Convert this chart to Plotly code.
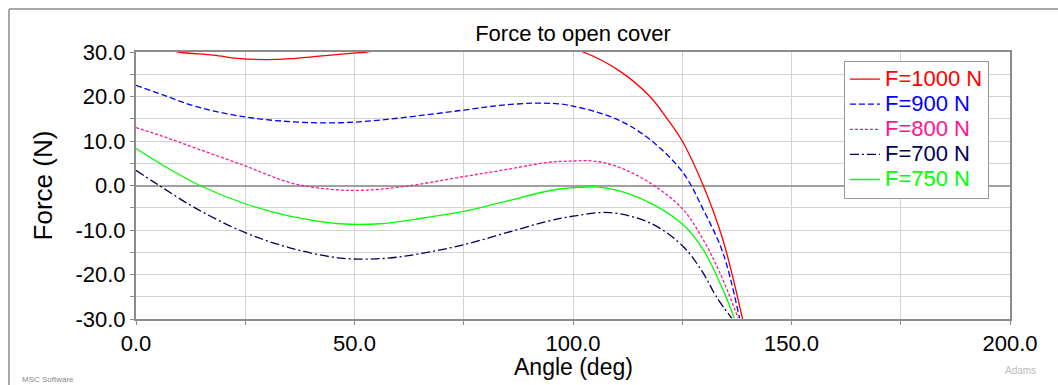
import plotly.graph_objects as go

# ---------------- data ----------------
x_1000 = [0, 5, 9.7, 17.7, 23.8, 30, 35.2, 41.3, 49, 52.8, 65, 80, 92, 102.3, 110.7, 117.6, 121.4, 125, 129.8, 134.3, 138.8]
y_1000 = [32.5, 31.0, 30.0, 29.3, 28.5, 28.3, 28.5, 29.0, 29.7, 30.0, 31.5, 32.8, 32.5, 30.0, 25.7, 20.0, 15.2, 10.0, 0.0, -12.2, -30.0]

x_900 = [0, 6.3, 13.9, 25, 36, 46.7, 55.8, 65.7, 75, 83.3, 90.9, 96, 100, 110, 117.6, 125.2, 129.8, 134.3, 138.1]
y_900 = [22.5, 20.3, 17.7, 15.4, 14.3, 14.1, 14.7, 15.8, 16.95, 18.0, 18.5, 18.4, 17.85, 14.9, 10.35, 2.85, -5.4, -15.1, -29.8]

x_800 = [0, 6.3, 13.9, 25, 35, 42, 49, 55, 61.9, 75, 84.8, 94.3, 100, 104.6, 110, 117.6, 125.2, 129.8, 133.6, 137.8]
y_800 = [13.0, 11.0, 8.3, 4.4, 0.7, -0.6, -1.1, -0.9, -0.15, 2.0, 3.6, 5.2, 5.5, 5.5, 4.3, 0.6, -5.4, -12.2, -19.6, -29.8]

x_700 = [0, 5, 14, 25, 35.2, 46.7, 56.6, 65.7, 75, 84.8, 94.3, 100, 108.4, 117.6, 125.2, 129.8, 132.8, 136.3]
y_700 = [3.4, 0.2, -5.3, -10.6, -14.0, -16.3, -16.4, -15.2, -13.3, -10.6, -8.0, -6.9, -6.1, -8.4, -13.7, -19.7, -25.0, -29.8]

x_750 = [0, 7.8, 14.6, 25, 35.2, 46.7, 55.8, 65.7, 75, 84.8, 96, 100, 105.4, 110, 117.6, 125.2, 129.8, 134.3, 136.9]
y_750 = [8.3, 3.6, 0.0, -4.1, -6.9, -8.6, -8.6, -7.3, -5.8, -3.5, -0.9, -0.5, -0.3, -1.05, -3.9, -8.8, -14.4, -23.4, -29.8]

series_names = ["F=1000 N", "F=900 N", "F=800 N", "F=700 N", "F=750 N"]

x_tickvals = [0, 25, 50, 75, 100, 125, 150, 175, 200]
x_ticktext = ["0.0", "", "50.0", "", "100.0", "", "150.0", "", "200.0"]
y_tickvals = [-30, -25, -20, -15, -10, -5, 0, 5, 10, 15, 20, 25, 30]
y_ticktext = ["-30.0", "", "-20.0", "", "-10.0", "", "0.0", "", "10.0", "", "20.0", "", "30.0"]

# ---------------- styling ----------------
FONT = "Arial, Liberation Sans, sans-serif"
styles = [
    ("#FF0000", "solid"),
    ("#0000FF", "6px,3px"),
    ("#FF1493", "3px,2px"),
    ("#00005A", "9px,3px,2px,3px"),
    ("#00FF00", "solid"),
]
xs = [x_1000, x_900, x_800, x_700, x_750]
ys = [y_1000, y_900, y_800, y_700, y_750]

fig = go.Figure()
for name, xv, yv, (col, dash) in zip(series_names, xs, ys, styles):
    fig.add_trace(go.Scatter(
        x=xv, y=yv, mode="lines",
        line=dict(color=col, dash=dash, width=1.3, shape="spline", smoothing=1.0),
        name=f'<span style="color:{col};font-size:22px">{name}</span>',
    ))

fig.update_layout(
    width=1058, height=385,
    margin=dict(l=136, r=48, t=52, b=66),
    paper_bgcolor="white", plot_bgcolor="white",
    font=dict(family=FONT, size=22, color="black"),
    title=dict(text="Force to open cover", x=(573 / 1058), xanchor="center",
               y=1 - 33 / 385, yanchor="middle", font=dict(size=22)),
    showlegend=True,
    legend=dict(
        x=0.81, y=0.968, xanchor="left", yanchor="top",
        bgcolor="white", bordercolor="#999999", borderwidth=1,
        font=dict(size=17), itemwidth=30, tracegroupgap=0,
        itemclick=False,
    ),
    xaxis=dict(
        range=[0, 200], tickvals=x_tickvals, ticktext=x_ticktext,
        showgrid=True, gridcolor="#D3D3D3", gridwidth=1,
        showline=True, linecolor="#8C8C8C", linewidth=2, mirror=True,
        ticks="outside", ticklen=4, tickcolor="#8C8C8C",
        zeroline=False, automargin=False,
    ),
    yaxis=dict(
        range=[-30, 30], tickvals=y_tickvals, ticktext=y_ticktext,
        showgrid=True, gridcolor="#D3D3D3", gridwidth=1,
        showline=True, linecolor="#8C8C8C", linewidth=2, mirror=True,
        ticks="outside", ticklen=4, tickcolor="#8C8C8C",
        zeroline=True, zerolinecolor="#A0A0A0", zerolinewidth=2,
        automargin=False,
        title=dict(text="Force (N)", standoff=15),
    ),
)

# x-axis title
fig.add_annotation(text="Angle (deg)", xref="paper", yref="paper",
                   x=0.5, y=(319 - 367) / 267, xanchor="center", yanchor="middle",
                   showarrow=False, borderpad=0, font=dict(size=23, color="black"))

# outer frame (top and left edges)
fig.add_shape(type="line", xref="paper", yref="paper",
              x0=(9 - 136) / 874, x1=(1058 - 136) / 874,
              y0=(319 - 9) / 267, y1=(319 - 9) / 267,
              line=dict(color="#A9A9A9", width=2))
fig.add_shape(type="line", xref="paper", yref="paper",
              x0=(9 - 136) / 874, x1=(9 - 136) / 874,
              y0=(319 - 9) / 267, y1=(319 - 390) / 267,
              line=dict(color="#A9A9A9", width=2))

# logos as text
fig.add_annotation(text="MSC Software", xref="paper", yref="paper",
                   x=(20 - 136) / 874, y=(319 - 379) / 267, xanchor="left", yanchor="middle",
                   showarrow=False, font=dict(size=8, color="#888888"))
fig.add_annotation(text="Adams", xref="paper", yref="paper",
                   x=(1020 - 136) / 874, y=(319 - 370) / 267, xanchor="center", yanchor="middle",
                   showarrow=False, font=dict(size=10, color="#BBBBBB"))

fig.write_html("out.html")
